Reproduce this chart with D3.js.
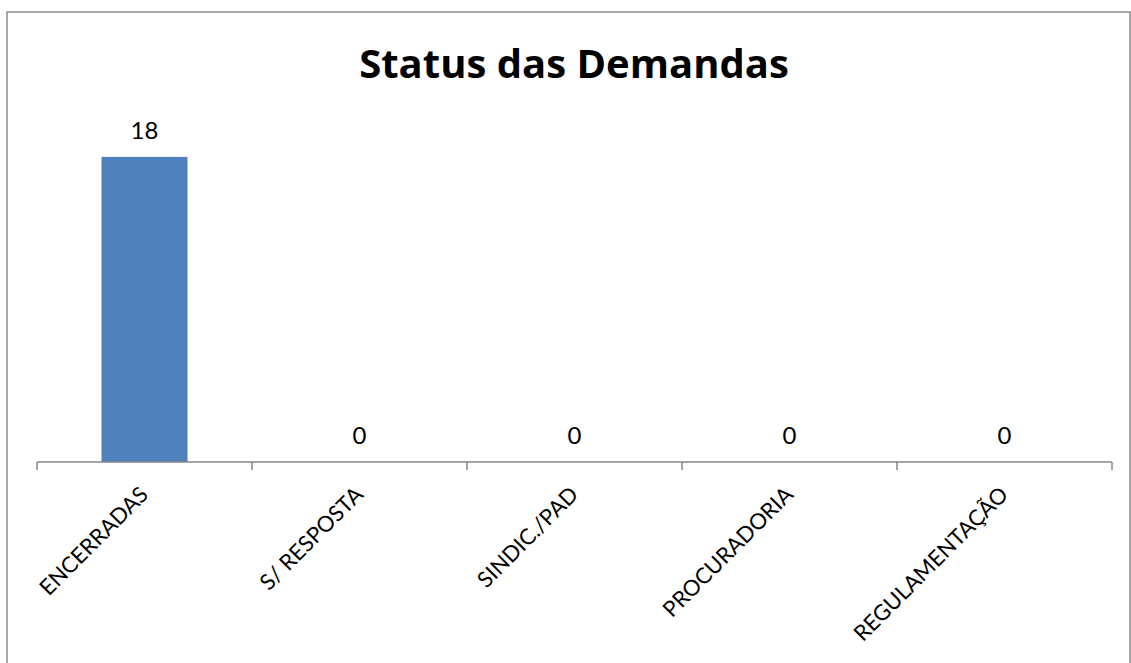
<!doctype html>
<html>
<head>
<meta charset="utf-8">
<title>Status das Demandas</title>
<style>
    body { margin: 0; background: #fff; }
    .frame { fill: #fff; stroke: #8c8c8c; stroke-width: 1.5px; }
    .axis line { stroke: #868686; stroke-width: 1.5px; }
    .title { font-family: "Open Sans", sans-serif; font-weight: bold; font-size: 40px; }
    .val { font-family: Lato, sans-serif; font-size: 24px; fill: #000; }
    .cat { font-family: Lato, sans-serif; font-size: 22px; fill: #000; }
</style>
</head>
<body>
<svg id="plot" width="1131" height="663"></svg>
<script src="https://d3js.org/d3.v7.min.js"></script>
<script>
const categories = ["ENCERRADAS", "S/ RESPOSTA", "SINDIC./PAD", "PROCURADORIA", "REGULAMENTAÇÃO"];
const values = [18, 0, 0, 0, 0];

let svg = d3.select("#plot");

svg.append("rect")
    .attr("class", "frame")
    .attr("x", 7).attr("y", 12)
    .attr("width", 1123).attr("height", 670);

svg.append("text")
    .attr("class", "title")
    .attr("x", 574).attr("y", 78)
    .attr("text-anchor", "middle")
    .text("Status das Demandas");

let x = d3.scaleBand()
    .domain(categories)
    .range([37, 1112])
    .paddingInner(0.6)
    .paddingOuter(0.3);

let y = d3.scaleLinear()
    .domain([0, 20])
    .range([462, 123]);

svg.selectAll(".bar")
    .data(values)
    .enter().append("rect")
    .attr("class", "bar")
    .attr("fill", "#4f81bd")
    .attr("x", (d, i) => x(categories[i]))
    .attr("width", x.bandwidth())
    .attr("y", d => y(d))
    .attr("height", d => y(0) - y(d));

svg.selectAll(".val")
    .data(values)
    .enter().append("text")
    .attr("class", "val")
    .attr("text-anchor", "middle")
    .attr("x", (d, i) => x(categories[i]) + x.bandwidth() / 2)
    .attr("y", d => y(d) - 18)
    .text(d => d);

// category axis: ticks on band boundaries, like Excel
let r = x.range();
let edges = d3.range(categories.length + 1).map(i => r[0] + i * (r[1] - r[0]) / categories.length);
let ax = svg.append("g").attr("class", "axis");
ax.append("line")
    .attr("x1", r[0]).attr("x2", r[1])
    .attr("y1", y(0)).attr("y2", y(0));
ax.selectAll(".tick")
    .data(edges)
    .enter().append("line")
    .attr("x1", d => d).attr("x2", d => d)
    .attr("y1", y(0)).attr("y2", y(0) + 8);

svg.selectAll(".cat")
    .data(categories)
    .enter().append("text")
    .attr("class", "cat")
    .attr("text-anchor", "end")
    .attr("transform", d => "translate(" + (x(d) + x.bandwidth() / 2 + 5) + "," + (y(0) + 34) + ") rotate(-45)")
    .text(d => d);
</script>
</body>
</html>
